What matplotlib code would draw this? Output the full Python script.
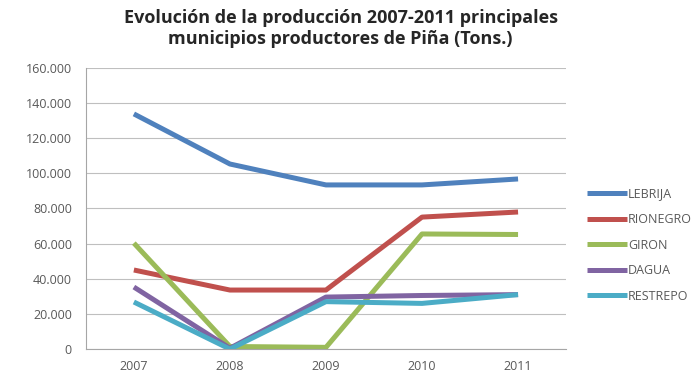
import matplotlib.pyplot as plt
from matplotlib.ticker import FuncFormatter

plt.rcParams['font.family'] = ['Open Sans', 'DejaVu Sans']

# datos
anios = ['2007', '2008', '2009', '2010', '2011']
lebrija = [133800, 105300, 93400, 93400, 96800]
rionegro = [45000, 33600, 33600, 75100, 78000]
giron = [60300, 1500, 1000, 65500, 65200]
dagua = [35300, 500, 29600, 30500, 31000]
restrepo = [26800, 0, 27000, 26000, 31000]

series = [('LEBRIJA', lebrija, '#4F81BD'),
          ('RIONEGRO', rionegro, '#C0504D'),
          ('GIRON', giron, '#9BBB59'),
          ('DAGUA', dagua, '#8064A2'),
          ('RESTREPO', restrepo, '#4BACC6')]

fig = plt.figure(figsize=(6.98, 3.77), dpi=100)
ax = fig.add_axes([0.123, 0.074, 0.688, 0.746])

x = range(len(anios))
for nombre, vals, color in series:
    ax.plot(x, vals, color=color, lw=3.6, label=nombre, solid_capstyle='butt')

ax.set_xlim(-0.5, len(anios) - 0.5)
ax.set_ylim(0, 160000)
ax.set_yticks(range(0, 160001, 20000))
ax.yaxis.set_major_formatter(FuncFormatter(lambda v, p: f'{int(v):,}'.replace(',', '.')))
ax.set_xticks(list(x))
ax.set_xticklabels(anios)
ax.grid(axis='y', color='#BFBFBF', lw=0.8)
ax.set_axisbelow(True)
for s in ['top', 'right']:
    ax.spines[s].set_visible(False)
for s in ['left', 'bottom']:
    ax.spines[s].set_color('#A6A6A6')
ax.tick_params(axis='both', colors='#595959', labelsize=9, length=0)
ax.tick_params(axis='y', pad=10)
ax.tick_params(axis='x', pad=8)

fig.suptitle('Evolución de la producción 2007-2011 principales\nmunicipios productores de Piña (Tons.)',
             x=0.488, y=0.975, fontsize=13, fontweight='bold', color='#262626', linespacing=1.2)

leg = ax.legend(loc='center left', bbox_to_anchor=(1.02, 0.37), frameon=False,
                fontsize=9, handlelength=3.2, handletextpad=0.1, labelspacing=1.0)
for t in leg.get_texts():
    t.set_color('#595959')

fig.savefig('out.png', dpi=100)
